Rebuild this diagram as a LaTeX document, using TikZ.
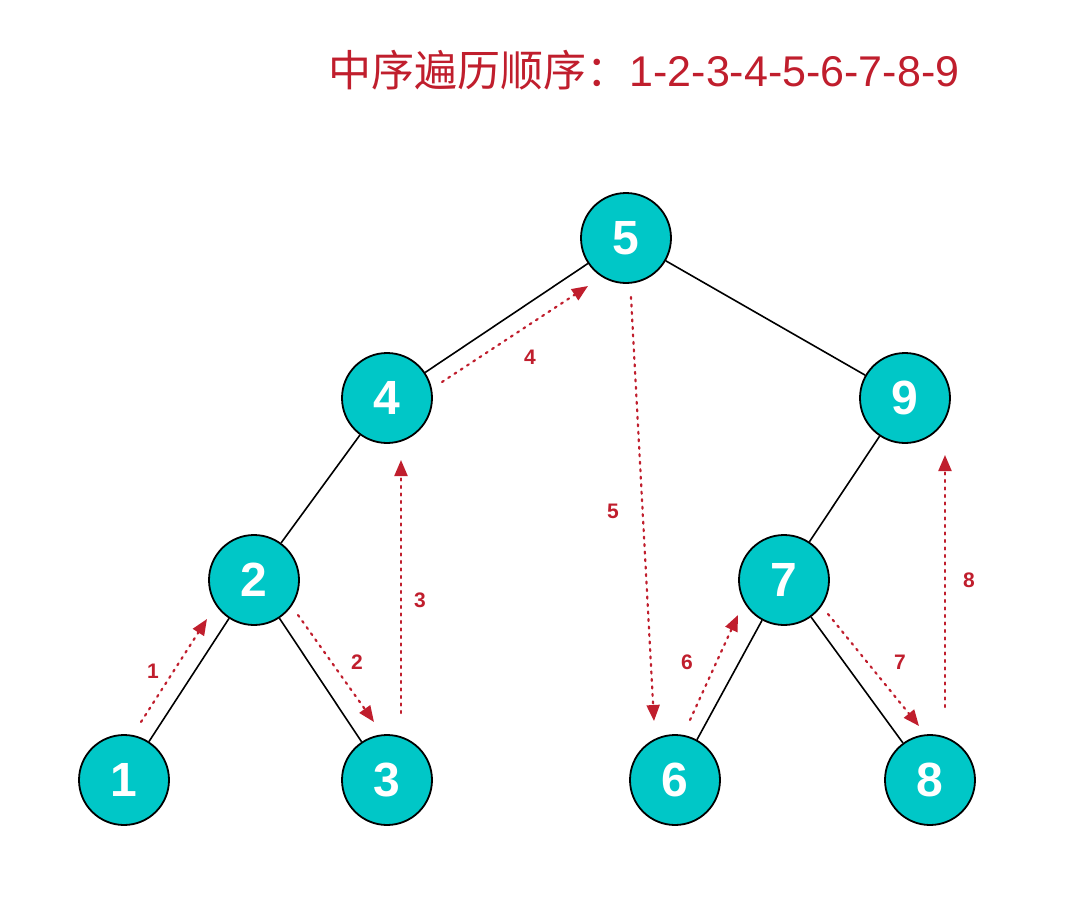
\documentclass[tikz,border=0pt]{standalone}
\usepackage{fontspec}
\setmainfont{Liberation Sans}
\newfontfamily\cjk{Noto Sans CJK SC}
\usetikzlibrary{arrows.meta}
\definecolor{teal1}{RGB}{0,199,199}
\definecolor{myred}{RGB}{192,30,45}
\tikzset{
  tnode/.style={circle, draw=black, line width=1.8pt, fill=teal1, minimum size=90pt, inner sep=0pt,
    text=white, font=\fontsize{48}{48}\selectfont\bfseries},
  tedge/.style={draw=black, line width=1.6pt},
  trav/.style={draw=myred, line width=2.2pt, dash pattern=on 2pt off 5.5pt, line cap=round,
    -{Triangle[length=16pt,width=13pt]}, myred},
  tlab/.style={text=myred, font=\fontsize{21}{21}\selectfont\bfseries},
}
\begin{document}
\begin{tikzpicture}[x=1pt,y=-1pt]
\useasboundingbox (0,0) rectangle (1080,910);
\node[text=myred, font=\fontsize{43}{43}\selectfont] (title) at (644,70) {{\cjk 中序遍历顺序：}1-2-3-4-5-6-7-8-9};
% nodes
\node[tnode] (n5) at (626,238) {5};
\node[tnode] (n4) at (387,398) {4};
\node[tnode] (n9) at (905,398) {9};
\node[tnode] (n2) at (254,580) {2};
\node[tnode] (n7) at (784,580) {7};
\node[tnode] (n1) at (124,780) {1};
\node[tnode] (n3) at (387,780) {3};
\node[tnode] (n6) at (675,780) {6};
\node[tnode] (n8) at (930,780) {8};
% tree edges
\draw[tedge] (n5) -- (n4);
\draw[tedge] (n5) -- (n9);
\draw[tedge] (n4) -- (n2);
\draw[tedge] (n9) -- (n7);
\draw[tedge] (n2) -- (n1);
\draw[tedge] (n2) -- (n3);
\draw[tedge] (n7) -- (n6);
\draw[tedge] (n7) -- (n8);
% traversal coordinates
\coordinate (a1s) at (141,722); \coordinate (a1e) at (207,619);
\coordinate (a2s) at (298,615); \coordinate (a2e) at (374,722);
\coordinate (a3s) at (401,713); \coordinate (a3e) at (401,460);
\coordinate (a4s) at (442,382); \coordinate (a4e) at (588,286);
\coordinate (a5s) at (631,297); \coordinate (a5e) at (654,721);
\coordinate (a6s) at (690,720); \coordinate (a6e) at (738,615);
\coordinate (a7s) at (828,614); \coordinate (a7e) at (919,726);
\coordinate (a8s) at (945,707); \coordinate (a8e) at (945,455);
\draw[trav] (a1s) -- (a1e);
\draw[trav] (a2s) -- (a2e);
\draw[trav] (a3s) -- (a3e);
\draw[trav] (a4s) -- (a4e);
\draw[trav] (a5s) -- (a5e);
\draw[trav] (a6s) -- (a6e);
\draw[trav] (a7s) -- (a7e);
\draw[trav] (a8s) -- (a8e);
% labels
\node[tlab] (l1) at (153,671) {1};
\node[tlab] (l2) at (357,662) {2};
\node[tlab] (l3) at (420,600) {3};
\node[tlab] (l4) at (530,357) {4};
\node[tlab] (l5) at (613,511) {5};
\node[tlab] (l6) at (687,662) {6};
\node[tlab] (l7) at (900,662) {7};
\node[tlab] (l8) at (969,580) {8};
\end{tikzpicture}
\end{document}
